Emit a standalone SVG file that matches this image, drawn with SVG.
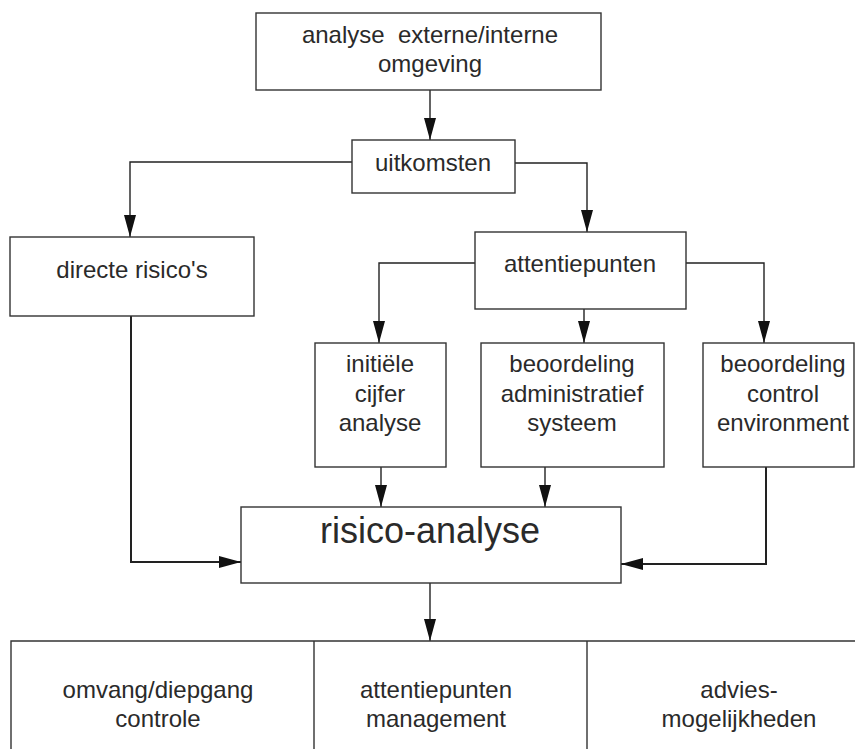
<svg xmlns="http://www.w3.org/2000/svg" width="855" height="749" viewBox="0 0 855 749">
<style>
.box{fill:none;stroke:#333;stroke-width:1.4}
.ln{fill:none;stroke:#222;stroke-width:1.4}
.thick{stroke-width:2}
text{font-family:"Liberation Sans",Arial,Helvetica,sans-serif;font-size:24px;fill:#2a2a2a;text-anchor:middle}
.big{font-size:36px}
</style>
<defs>
<marker id="ah" viewBox="0 0 22 12" refX="22" refY="6" markerWidth="22" markerHeight="12" markerUnits="userSpaceOnUse" orient="auto">
<path d="M0,0 L22,6 L0,12 z" fill="#111"/>
</marker>
</defs>
<rect width="855" height="749" fill="#fff"/>
<g id="connectors">
<path class="ln" d="M430,90 V140" marker-end="url(#ah)"/>
<path class="ln" d="M352,162 H130 V237" marker-end="url(#ah)"/>
<path class="ln" d="M515,163 H587 V232" marker-end="url(#ah)"/>
<path class="ln" d="M475,263 H379 V343" marker-end="url(#ah)"/>
<path class="ln" d="M584,309 V343" marker-end="url(#ah)"/>
<path class="ln" d="M686,263 H764 V343" marker-end="url(#ah)"/>
<path class="ln thick" d="M131,316 V562 H241" marker-end="url(#ah)"/>
<path class="ln" d="M381,467 V507" marker-end="url(#ah)"/>
<path class="ln" d="M545,467 V507" marker-end="url(#ah)"/>
<path class="ln thick" d="M766,467 V564 H621" marker-end="url(#ah)"/>
<path class="ln" d="M430,583 V641" marker-end="url(#ah)"/>
</g>
<g id="analyse">
<rect class="box" x="256" y="13" width="345" height="77"/>
<text x="430" y="43" xml:space="preserve">analyse  externe/interne</text>
<text x="430" y="72">omgeving</text>
</g>
<g id="uitkomsten">
<rect class="box" x="352" y="140" width="163" height="53"/>
<text x="433" y="171">uitkomsten</text>
</g>
<g id="directe">
<rect class="box" x="10" y="237" width="244" height="79"/>
<text x="132" y="278">directe risico's</text>
</g>
<g id="attentiepunten">
<rect class="box" x="475" y="232" width="211" height="77"/>
<text x="580" y="272">attentiepunten</text>
</g>
<g id="initiele">
<rect class="box" x="315" y="343" width="131" height="124"/>
<text x="380" y="372">initiële</text>
<text x="380" y="402">cijfer</text>
<text x="380" y="431">analyse</text>
</g>
<g id="administratief">
<rect class="box" x="481" y="343" width="183" height="124"/>
<text x="572" y="372">beoordeling</text>
<text x="572" y="402">administratief</text>
<text x="572" y="431">systeem</text>
</g>
<g id="control">
<rect class="box" x="703" y="343" width="151" height="124"/>
<text x="783" y="372">beoordeling</text>
<text x="783" y="402">control</text>
<text x="783" y="431">environment</text>
</g>
<g id="risico">
<rect class="box" x="241" y="507" width="380" height="76"/>
<text class="big" x="430" y="543">risico-analyse</text>
</g>
<g id="uitkomst-rij">
<path class="box" d="M11,749 V641 H860 M314,641 V749 M587,641 V749"/>
<text x="158" y="698">omvang/diepgang</text>
<text x="158" y="727">controle</text>
<text x="436" y="698">attentiepunten</text>
<text x="436" y="727">management</text>
<text x="739" y="698">advies-</text>
<text x="739" y="727">mogelijkheden</text>
</g>
</svg>
